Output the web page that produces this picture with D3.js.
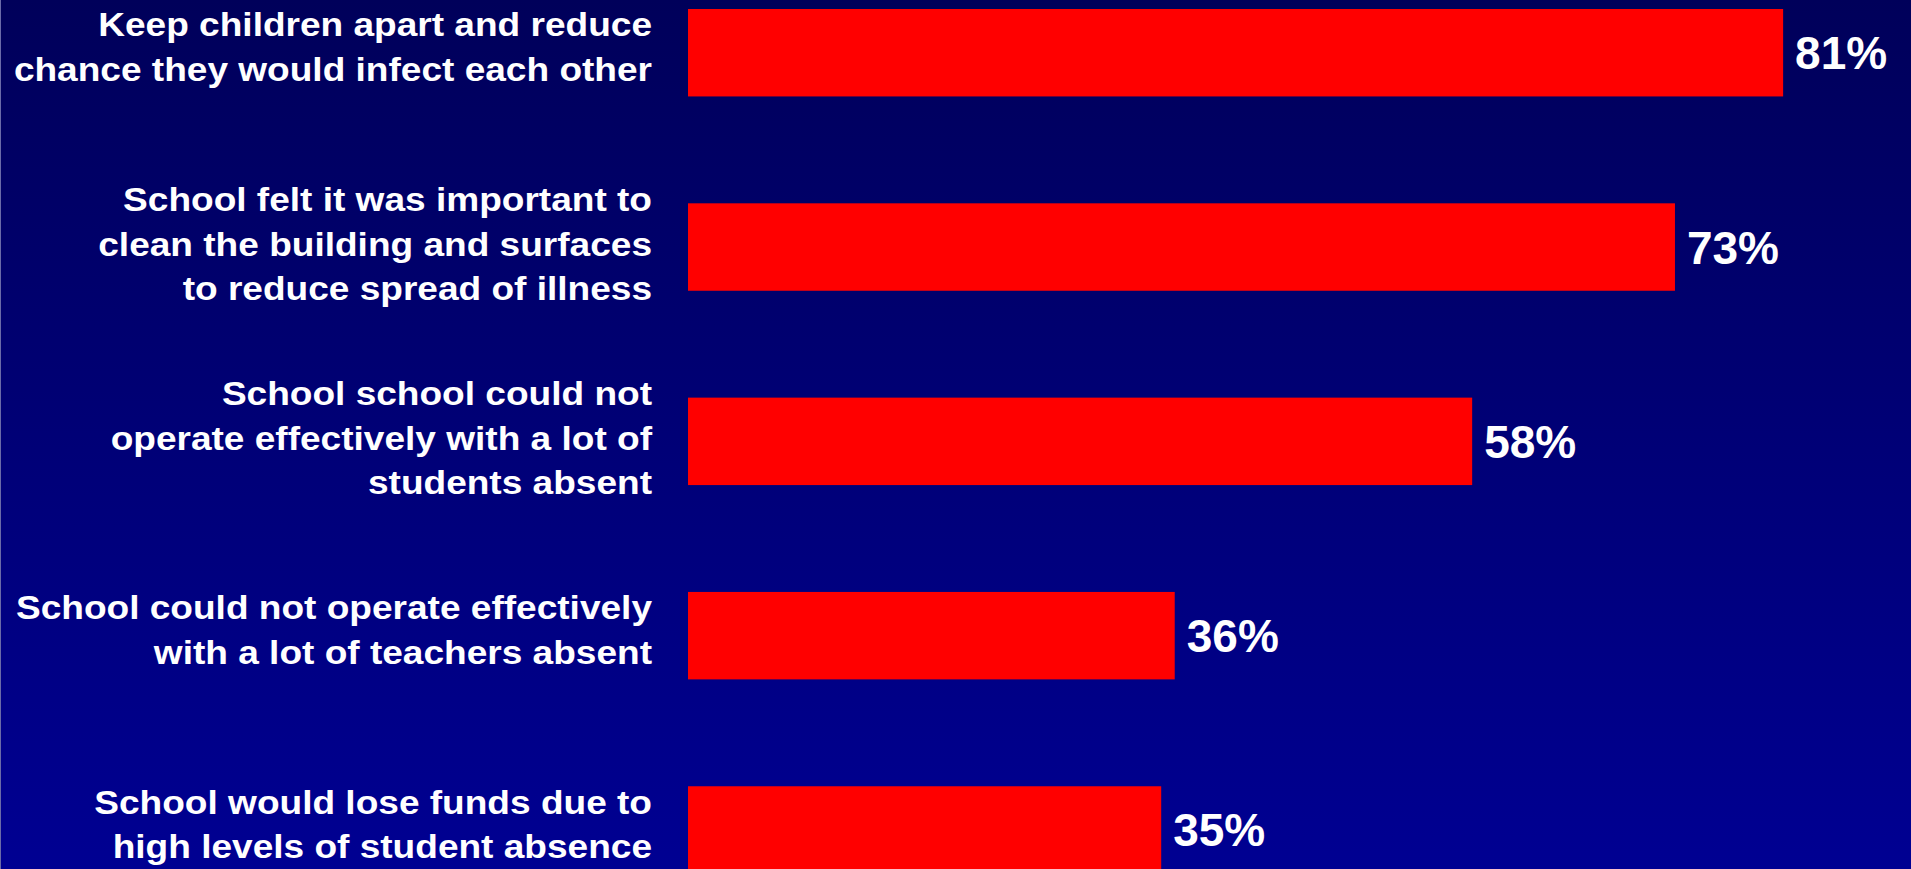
<!DOCTYPE html>
<html>
<head>
<meta charset="utf-8">
<script src="https://cdn.jsdelivr.net/npm/d3@7"></script>
<style>
  html, body { margin: 0; padding: 0; overflow: hidden; background: #000070; }
  svg { display: block; }
</style>
</head>
<body>
<svg id="chart" width="1911" height="869"></svg>
<script>
const categories = [
  ["Keep children apart and reduce", "chance they would infect each other"],
  ["School felt it was important to", "clean the building and surfaces", "to reduce spread of illness"],
  ["School school could not", "operate effectively with a lot of", "students absent"],
  ["School could not operate effectively", "with a lot of teachers absent"],
  ["School would lose funds due to", "high levels of student absence"]
];
const values = [81, 73, 58, 36, 35];
const valueLabels = ["81%", "73%", "58%", "36%", "35%"];

const W = 1911, H = 869;
const svg = d3.select("#chart");

const defs = svg.append("defs");
const grad = defs.append("linearGradient").attr("id", "bg").attr("x1", 0).attr("y1", 0).attr("x2", 0).attr("y2", 1);
grad.append("stop").attr("offset", "0%").attr("stop-color", "#00005a");
grad.append("stop").attr("offset", "100%").attr("stop-color", "#000092");
svg.append("rect").attr("width", W).attr("height", H).attr("fill", "url(#bg)");
svg.append("line").attr("x1", 0.5).attr("x2", 0.5).attr("y1", 0).attr("y2", H)
  .attr("stroke", "#6a6aa8").attr("stroke-width", 1);

const ids = categories.map((c, i) => i);
const x = d3.scaleLinear().domain([0, 100]).range([688, 2040]);
const y = d3.scaleBand().domain(ids).range([9, 873.7]).paddingInner(0.55).paddingOuter(0);

svg.append("g").selectAll("rect").data(ids).join("rect")
  .attr("x", x(0))
  .attr("y", d => y(d))
  .attr("width", d => x(values[d]) - x(0))
  .attr("height", y.bandwidth())
  .attr("fill", "#ff0000");

svg.append("g").selectAll("text").data(ids).join("text")
  .attr("x", d => x(values[d]) + 12)
  .attr("y", d => y(d) + y.bandwidth() / 2 + 16.5)
  .attr("fill", "#ffffff")
  .attr("font-family", "'Liberation Sans', Arial, sans-serif")
  .attr("font-weight", "bold")
  .attr("font-size", 46)
  .text(d => valueLabels[d]);

const lineH = 44.5;
const labG = svg.append("g").attr("transform", "translate(652,0) scale(1.09,1)");
const lab = labG.selectAll("text").data(ids).join("text")
  .attr("text-anchor", "end")
  .attr("fill", "#ffffff")
  .attr("font-family", "'Liberation Sans', Arial, sans-serif")
  .attr("font-weight", "bold")
  .attr("font-size", 34);
lab.each(function(d) {
  const lines = categories[d];
  const n = lines.length;
  const cy = y(d) + y.bandwidth() / 2;
  d3.select(this).selectAll("tspan").data(lines).join("tspan")
    .attr("x", 0)
    .attr("y", (l, i) => cy + (i - (n - 1) / 2) * lineH + (n === 3 ? 8.5 : 6))
    .text(l => l);
});
</script>
</body>
</html>
